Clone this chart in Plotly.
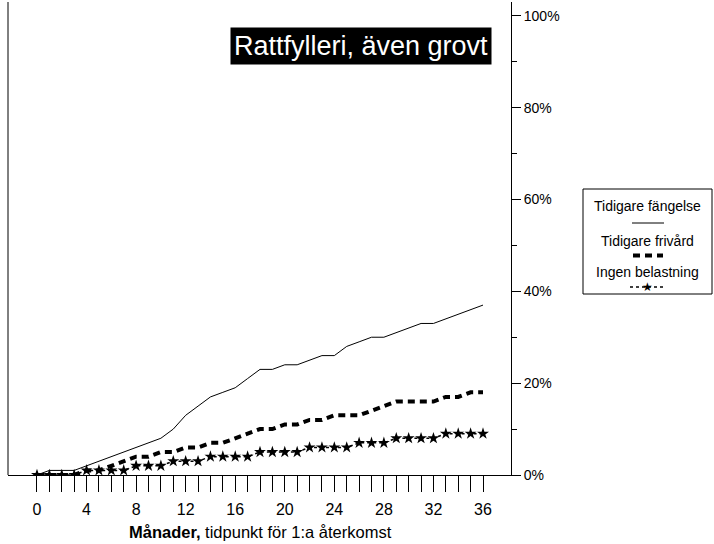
import plotly.graph_objects as go

months = list(range(0, 37))
fangelse = [0, 1, 1, 1, 2, 3, 4, 5, 6, 7, 8, 10, 13, 15, 17, 18, 19, 21, 23, 23,
            24, 24, 25, 26, 26, 28, 29, 30, 30, 31, 32, 33, 33, 34, 35, 36, 37]
frivard = [0, 0, 0, 0, 1, 1, 2, 3, 4, 4, 5, 5, 6, 6, 7, 7, 8, 9, 10, 10,
           11, 11, 12, 12, 13, 13, 13, 14, 15, 16, 16, 16, 16, 17, 17, 18, 18]
ingen = [0, 0, 0, 0, 1, 1, 1, 1, 2, 2, 2, 3, 3, 3, 4, 4, 4, 4, 5, 5,
         5, 5, 6, 6, 6, 6, 7, 7, 7, 8, 8, 8, 8, 9, 9, 9, 9]
series_names = ["Tidigare fängelse", "Tidigare frivård", "Ingen belastning"]
y_ticks = [0, 20, 40, 60, 80, 100]
y_ticktext = ["0%", "20%", "40%", "60%", "80%", "100%"]
title_text = "Rattfylleri, även grovt"
x_title = "<b>Månader,</b> tidpunkt för 1:a återkomst"

FONT = "Liberation Sans, Arial, sans-serif"

fig = go.Figure()
fig.add_trace(go.Scatter(x=months, y=fangelse, name=series_names[0], mode="lines",
                         line=dict(color="black", width=1)))
fig.add_trace(go.Scatter(x=months, y=frivard, name=series_names[1], mode="lines",
                         line=dict(color="black", width=4, dash="7px,5px")))
fig.add_trace(go.Scatter(x=months, y=ingen, name=series_names[2], mode="lines+markers",
                         line=dict(color="black", width=1.5, dash="3px,3px"),
                         marker=dict(symbol="star", size=9, color="black")))

xtickvals = months
xticktext = [str(m) if m % 4 == 0 else "" for m in months]

fig.update_layout(
    width=714, height=544,
    margin=dict(l=8, r=203, t=2, b=69),
    paper_bgcolor="white", plot_bgcolor="white",
    showlegend=False,
    font=dict(family=FONT, size=13, color="black"),
    xaxis=dict(range=[-2.34, 38.26], tickmode="array", tickvals=xtickvals, ticktext=xticktext,
               ticks="outside", ticklen=16, tickwidth=1, tickcolor="black", ticklabelstandoff=4,
               showline=True, linecolor="black", linewidth=1, showgrid=False, zeroline=False,
               tickfont=dict(size=16, family=FONT)),
    yaxis=dict(range=[0, 103], side="right", tickmode="array", tickvals=y_ticks, ticktext=y_ticktext,
               ticks="outside", ticklen=9, tickwidth=1, tickcolor="black",
               minor=dict(tickmode="array", tickvals=[10, 30, 50, 70, 90], ticks="outside",
                          ticklen=5, tickcolor="black", tickwidth=1),
               showline=True, linecolor="black", linewidth=1, showgrid=False, zeroline=False,
               tickfont=dict(size=14, family=FONT)),
)

# left frame line
fig.add_shape(type="line", xref="paper", yref="paper", x0=0, x1=0, y0=0, y1=1,
              line=dict(color="black", width=1))

def py(p):
    return (475 - p) / 473
def px(p):
    return (p - 8) / 503

# x-axis title
fig.add_annotation(xref="paper", yref="paper", x=px(260), y=py(532), yanchor="middle",
                   text=x_title, showarrow=False, font=dict(size=16.5, family=FONT))

# chart title (black box)
fig.add_annotation(xref="paper", yref="paper", x=px(492), y=py(45.5), xanchor="right", yanchor="middle",
                   text=title_text, showarrow=False, bgcolor="black", borderpad=3,
                   font=dict(size=27, color="white", family=FONT))

# custom legend
fig.add_shape(type="rect", xref="paper", yref="paper", x0=px(583), x1=px(712), y0=py(294), y1=py(189),
              line=dict(color="black", width=1), fillcolor="white")
cx = px(647.5)
for name, ypos in zip(series_names, [206, 241, 271.5]):
    fig.add_annotation(xref="paper", yref="paper", x=cx, y=py(ypos), xanchor="center", yanchor="middle",
                       text=name, showarrow=False, font=dict(size=14, family=FONT))
fig.add_shape(type="line", xref="paper", yref="paper", x0=px(632), x1=px(664), y0=py(223), y1=py(223),
              line=dict(color="black", width=1))
fig.add_shape(type="line", xref="paper", yref="paper", x0=px(633), x1=px(663), y0=py(255.5), y1=py(255.5),
              line=dict(color="black", width=4, dash="7px,5px"))
fig.add_shape(type="line", xref="paper", yref="paper", x0=px(630), x1=px(664), y0=py(287), y1=py(287),
              line=dict(color="black", width=1.5, dash="3px,3px"))
fig.add_annotation(xref="paper", yref="paper", x=cx, y=py(286.5), xanchor="center", yanchor="middle",
                   text="★", showarrow=False, font=dict(size=12, color="black", family="DejaVu Sans"))

fig.write_html("out.html", config={"displayModeBar": False},
               post_script="document.body.style.margin='0px';")
